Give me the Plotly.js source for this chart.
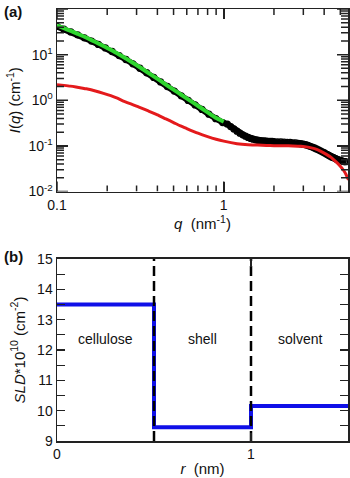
<!DOCTYPE html>
<html>
<head>
<meta charset="utf-8">
<script src="https://cdn.plot.ly/plotly-3.0.1.min.js"></script>
<style>html,body{margin:0;padding:0;background:#fff;}#chart{width:350px;height:478px;}</style>
</head>
<body>
<div id="chart"></div>
<script>
// ---- Panel (a): SAXS data ----
const qData = [0.100,0.110,0.121,0.133,0.146,0.161,0.177,0.195,0.214,0.236,0.259,0.285,0.314,0.345,0.380,0.418,0.459,0.505,0.556,0.612,0.673,0.740,0.814,0.895,0.985,
  1.05,1.10,1.15,1.20,1.25,1.30,1.35,1.40,1.45,1.50,1.55,1.60,1.65,1.70,1.75,1.80,1.85,1.90,1.95,2.00,
  2.10,2.20,2.30,2.40,2.50,2.60,2.70,2.80,2.90,3.00,3.10,3.20,3.30,3.40,3.50,3.60,3.70,3.80,3.90,4.00,
  4.10,4.20,4.30,4.40,4.50,4.60,4.70,4.80,4.90,5.00,5.10,5.20,5.30,5.40];
const iData = [41.5,36.2,31.4,27.1,23.4,19.8,16.7,14.0,11.7,9.55,7.83,6.30,5.03,4.01,3.16,2.52,2.00,1.59,1.25,0.99,0.79,0.63,0.495,0.395,0.325,
  0.300,0.265,0.235,0.210,0.190,0.175,0.163,0.153,0.146,0.140,0.136,0.133,0.131,0.129,0.128,0.127,0.126,0.125,0.125,0.124,
  0.123,0.122,0.121,0.120,0.119,0.117,0.116,0.114,0.112,0.109,0.106,0.102,0.098,0.094,0.090,0.086,0.082,0.078,0.074,0.071,
  0.067,0.064,0.061,0.058,0.056,0.054,0.052,0.050,0.049,0.048,0.047,0.046,0.045,0.045];

const qFit = [0.100,0.110,0.121,0.133,0.146,0.161,0.177,0.195,0.214,0.236,0.259,0.285,0.314,0.345,0.380,0.418,0.459,0.505,0.556,0.612,0.673,0.740,0.814,0.895,1.000];
const iFit = [43.7,38.1,33.0,28.5,24.6,20.8,17.6,14.7,12.3,10.05,8.24,6.63,5.29,4.22,3.33,2.65,2.10,1.67,1.32,1.045,0.83,0.66,0.52,0.414,0.34];

const qModel = [0.10,0.11,0.12,0.13,0.14,0.15,0.17,0.19,0.21,0.23,0.25,0.28,0.31,0.35,0.40,0.45,0.50,0.55,0.60,0.70,0.80,0.90,1.0,1.2,1.4,1.6,1.8,2.0,2.3,2.6,2.9,3.2,3.5,3.8,4.1,4.4,4.7,5.0,5.2,5.4,5.6];
const iModel = [2.2,2.12,2.04,1.95,1.86,1.78,1.6,1.42,1.26,1.11,0.96,0.82,0.71,0.59,0.48,0.39,0.325,0.275,0.24,0.19,0.16,0.14,0.127,0.112,0.106,0.104,0.102,0.101,0.101,0.100,0.098,0.094,0.087,0.077,0.066,0.056,0.045,0.036,0.030,0.024,0.018];

// tick labels and tick positions for panel (a)
const iMajorVals = [0.01, 0.1, 1, 10, 100];
const iMajorText = ['10<sup>-2</sup>', '10<sup>-1</sup>', '10<sup>0</sup>', '10<sup>1</sup>', '10<sup>2</sup>'];
const iMinorVals = [0.02,0.03,0.04,0.05,0.06,0.07,0.08,0.09,0.2,0.3,0.4,0.5,0.6,0.7,0.8,0.9,2,3,4,5,6,7,8,9,20,30,40,50,60,70,80,90];
const qMajorVals = [0.1, 1];
const qMajorText = ['0.1', '1'];
const qMinorVals = [0.2,0.3,0.4,0.5,0.6,0.7,0.8,0.9,2,3,4,5];

// ---- Panel (b): SLD profile ----
const regionEdges = [0, 0.5, 1.0, 1.5];
const sldValues = [13.5, 9.45, 10.15];
const regionNames = ['cellulose', 'shell', 'solvent'];
const sldRange = [9, 15];

const font = 'Arial, "Liberation Sans", sans-serif';
const axCol = '#222';
const qRange = [-1, 0.745];
const iRange = [-2, 2];
const plotWpx = 291, plotApx = 182.5;

const traces = [
  {x: qData, y: iData, xaxis: 'x', yaxis: 'y', mode: 'lines+markers', type: 'scatter',
   line: {color: '#000', width: 6},
   marker: {symbol: 'circle-open', size: 6, color: '#000', line: {width: 1.3, color: '#000'}}, hoverinfo: 'skip'},
  {x: qModel, y: iModel, xaxis: 'x', yaxis: 'y', mode: 'lines', type: 'scatter',
   line: {color: '#e41a1c', width: 3, shape: 'spline', smoothing: 0.6}, hoverinfo: 'skip'},
  {x: qFit, y: iFit, xaxis: 'x', yaxis: 'y', mode: 'lines', type: 'scatter',
   line: {color: '#2fd62f', width: 4, shape: 'spline', smoothing: 0.6}, hoverinfo: 'skip'}
];

// inside ticks of panel (a) on all four sides, one short segment per tick, through the log scales
(function () {
  const qLo = Math.pow(10, qRange[0]), qHi = Math.pow(10, qRange[1]);
  const iLo = Math.pow(10, iRange[0]), iHi = Math.pow(10, iRange[1]);
  const decPerPxX = (qRange[1] - qRange[0]) / plotWpx;
  const decPerPxY = (iRange[1] - iRange[0]) / plotApx;
  function seg(xs, ys) {
    traces.push({x: xs, y: ys, xaxis: 'x', yaxis: 'y', mode: 'lines', type: 'scatter',
      line: {color: axCol, width: 1.5}, hoverinfo: 'skip'});
  }
  function qTick(v, len) {
    const k = Math.pow(10, len * decPerPxY);
    seg([v, v], [iLo, iLo * k]);
    seg([v, v], [iHi, iHi / k]);
  }
  function iTick(v, len) {
    const k = Math.pow(10, len * decPerPxX);
    seg([qLo, qLo * k], [v, v]);
    seg([qHi, qHi / k], [v, v]);
  }
  qMajorVals.forEach(function (v) { qTick(v, 10); });
  qMinorVals.forEach(function (v) { qTick(v, 6); });
  iMajorVals.forEach(function (v) { iTick(v, 11); });
  iMinorVals.forEach(function (v) { iTick(v, 7); });
})();

// step profile
const stepX = regionEdges.slice();
const stepY = sldValues.concat([sldValues[sldValues.length - 1]]);
traces.push({x: stepX, y: stepY, xaxis: 'x2', yaxis: 'y2', mode: 'lines', type: 'scatter',
  line: {color: '#1010e8', width: 4, shape: 'hv'}, hoverinfo: 'skip'});

// dashed interfaces (inner edges)
regionEdges.slice(1, -1).forEach(function (r) {
  traces.push({x: [r, r], y: sldRange, xaxis: 'x2', yaxis: 'y2', mode: 'lines', type: 'scatter',
    line: {color: '#000', width: 2.5, dash: '10px,5px'}, hoverinfo: 'skip'});
});

const annotations = [
  {text: '<b>(a)</b>', xref: 'paper', yref: 'paper', x: -0.19, y: 0.995, xanchor: 'left', yanchor: 'middle', showarrow: false, font: {size: 15, family: font, color: '#111'}},
  {text: '<b>(b)</b>', xref: 'paper', yref: 'paper', x: -0.19, y: 0.428, xanchor: 'left', yanchor: 'middle', showarrow: false, font: {size: 15, family: font, color: '#111'}}
];
regionNames.forEach(function (name, k) {
  annotations.push({text: name, xref: 'x2', yref: 'y2', x: (regionEdges[k] + regionEdges[k + 1]) / 2, y: 12.35,
    showarrow: false, font: {size: 14, family: font, color: '#111'}});
});

const common = {showline: true, linecolor: axCol, linewidth: 1.5, mirror: 'allticks', ticks: 'inside', tickcolor: axCol,
  showgrid: false, zeroline: false, tickfont: {size: 14, family: font, color: '#111'}};

const layout = {
  width: 350, height: 478,
  margin: {l: 57, r: 2, t: 9, b: 37},
  paper_bgcolor: '#fff', plot_bgcolor: '#fff',
  showlegend: false,
  font: {family: font, color: '#111'},
  xaxis: Object.assign({}, common, {
    type: 'log', range: qRange, anchor: 'y', domain: [0, 1], ticklen: 10, tickwidth: 1.5,
    tickmode: 'array', tickvals: qMajorVals, ticktext: qMajorText,
    title: {text: '<i>q</i>  (nm<sup>-1</sup>)', font: {size: 15, family: font, color: '#111'}, standoff: 2}
  }),
  yaxis: Object.assign({}, common, {
    type: 'log', range: iRange, anchor: 'x', domain: [0.5775, 1], ticklen: 11, tickwidth: 1.5,
    tickmode: 'array', tickvals: iMajorVals, ticktext: iMajorText,
    title: {text: '<i>I</i>(<i>q</i>) (cm<sup>-1</sup>)', font: {size: 15, family: font, color: '#111'}, standoff: 4}
  }),
  xaxis2: Object.assign({}, common, {
    range: [0, 1.5], anchor: 'y2', domain: [0, 1], dtick: 1, tick0: 0, ticklen: 8, tickwidth: 1.2,
    title: {text: '<i>r</i>  (nm)', font: {size: 15, family: font, color: '#111'}, standoff: 2}
  }),
  yaxis2: Object.assign({}, common, {
    range: [9, 15], anchor: 'x2', domain: [0, 0.4213], dtick: 1, tick0: 9, ticklen: 8, tickwidth: 1.2,
    minor: {ticks: 'inside', ticklen: 8, dtick: 0.5, tickcolor: axCol, tickwidth: 1.2, showgrid: false},
    title: {text: '<i>SLD</i>*10<sup>10</sup> (cm<sup>-2</sup>)', font: {size: 15, family: font, color: '#111'}, standoff: 8}
  }),
  annotations: annotations
};

Plotly.newPlot('chart', traces, layout, {staticPlot: true, displayModeBar: false});
</script>
</body>
</html>
